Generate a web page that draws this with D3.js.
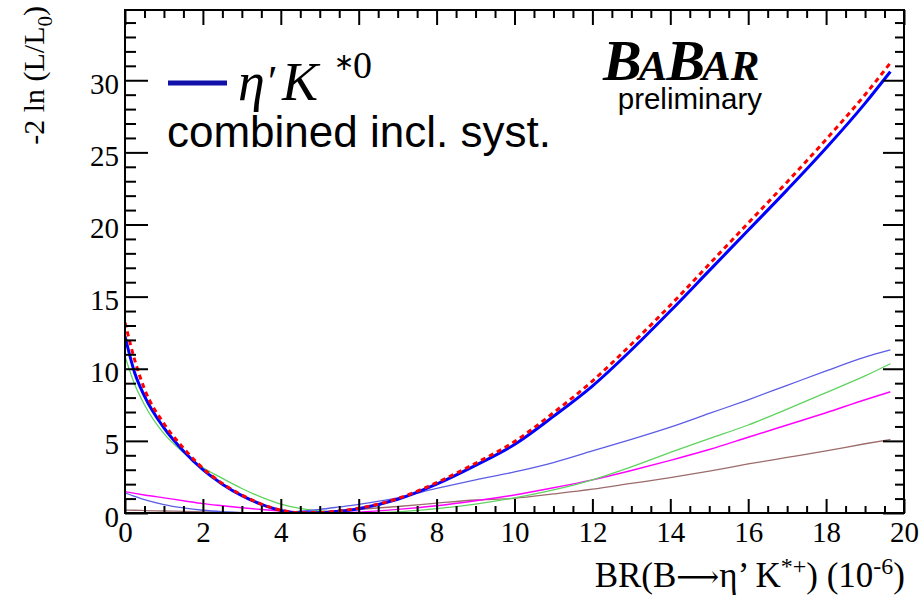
<!DOCTYPE html>
<html>
<head>
<meta charset="utf-8">
<script src="https://cdn.jsdelivr.net/npm/d3@7"></script>
<style>
  body { margin: 0; background: #fff; }
  #chart-area { width: 920px; height: 599px; }
  .tick text { font-family: "Liberation Serif", "Times New Roman", serif; font-size: 29px; fill: #000; }
  .tick line { stroke: #000; stroke-width: 2; }
  .domain { display: none; }
</style>
</head>
<body>
<div id="chart-area"></div>
<script>
// BR values (10^-6) where the scans are sampled
const brValues = [0, 0.25, 0.5, 1, 1.5, 2, 2.5, 3, 3.5, 4, 4.5, 5, 5.5, 6, 7, 8, 9, 10, 11, 12, 13, 14, 15, 16, 17, 18, 19, 19.65];

// -2 ln(L/L0) scans
const combinedSyst = [12.25, 9.7, 8.1, 5.9, 4.3, 3.0, 2.0, 1.2, 0.6, 0.18, 0.01, 0.02, 0.12, 0.3, 0.95, 2.0, 3.3, 4.75, 6.7, 8.8, 11.3, 14.0, 16.8, 19.6, 22.4, 25.3, 28.4, 30.6];
const combinedStat = [13.2, 10.6, 8.6, 6.2, 4.5, 3.1, 2.05, 1.25, 0.62, 0.2, 0.02, 0.03, 0.14, 0.33, 1.0, 2.1, 3.45, 4.95, 6.95, 9.15, 11.7, 14.4, 17.25, 20.1, 22.95, 25.9, 29.0, 31.2];
const channelBlue = [1.4, 1.15, 0.92, 0.58, 0.35, 0.19, 0.09, 0.03, 0.01, 0.03, 0.12, 0.25, 0.42, 0.6, 1.05, 1.7, 2.3, 2.85, 3.5, 4.3, 5.1, 5.95, 6.9, 7.85, 8.85, 9.85, 10.8, 11.3];
const channelGreen = [10.85, 8.9, 7.5, 5.5, 4.2, 3.15, 2.4, 1.7, 1.1, 0.62, 0.32, 0.14, 0.05, 0.02, 0.08, 0.3, 0.62, 1.05, 1.6, 2.3, 3.2, 4.2, 5.15, 6.1, 7.2, 8.35, 9.5, 10.35];
const channelMagenta = [1.48, 1.36, 1.25, 1.05, 0.85, 0.65, 0.5, 0.36, 0.24, 0.14, 0.06, 0.01, 0.01, 0.06, 0.25, 0.5, 0.85, 1.25, 1.75, 2.3, 2.95, 3.65, 4.4, 5.25, 6.1, 6.95, 7.85, 8.4];
const channelBrown = [0.2, 0.19, 0.17, 0.14, 0.11, 0.08, 0.05, 0.03, 0.01, 0.0, 0.0, 0.07, 0.15, 0.25, 0.45, 0.68, 0.9, 1.02, 1.32, 1.65, 2.05, 2.45, 2.9, 3.4, 3.85, 4.3, 4.8, 5.1];

const xMajorTicks = [0, 2, 4, 6, 8, 10, 12, 14, 16, 18, 20];
const yMajorTicks = [0, 5, 10, 15, 20, 25, 30];

// thin channel curves first, combined on top
const series = [
    { values: channelBrown, color: "#9c6b6b", width: 1.3, dash: null },
    { values: channelMagenta, color: "#ff00ff", width: 1.4, dash: null },
    { values: channelGreen, color: "#5fd35f", width: 1.3, dash: null },
    { values: channelBlue, color: "#5c5ce6", width: 1.3, dash: null },
    { values: combinedSyst, color: "#0000ff", width: 3, dash: null },
    { values: combinedStat, color: "#ff0000", width: 3, dash: "5,4" }
];

const width = 920, height = 599;
const margin = { top: 10, right: 16, bottom: 86, left: 125 };
const innerW = width - margin.left - margin.right;
const innerH = height - margin.top - margin.bottom;

const svg = d3.select("#chart-area").append("svg")
    .attr("width", width)
    .attr("height", height)
    .attr("viewBox", `0 0 ${width} ${height}`);

svg.append("rect").attr("width", width).attr("height", height).attr("fill", "#fff");

const g = svg.append("g").attr("transform", `translate(${margin.left},${margin.top})`);

const x = d3.scaleLinear().domain([0, 20]).range([0, innerW]);
const y = d3.scaleLinear().domain([0, 34.87]).range([innerH, 0]);

const xMinor = d3.range(0, 20.01, 0.5).filter(v => !xMajorTicks.includes(v));
const yMinor = d3.range(0, 34.5, 1).filter(v => !yMajorTicks.includes(v));

// Curves (clipped to frame)
g.append("clipPath").attr("id", "frame-clip")
    .append("rect").attr("width", innerW).attr("height", innerH);

const line = d3.line()
    .x((d, i) => x(brValues[i]))
    .y(d => y(d))
    .curve(d3.curveMonotoneX);

g.append("g").attr("clip-path", "url(#frame-clip)")
    .selectAll("path")
    .data(series)
    .enter()
    .append("path")
    .attr("d", d => line(d.values))
    .attr("fill", "none")
    .attr("stroke", d => d.color)
    .attr("stroke-width", d => d.width)
    .attr("stroke-dasharray", d => d.dash);

// Axes, ROOT style ticks pointing inward
g.append("g").attr("transform", `translate(0,${innerH})`)
    .call(d3.axisBottom(x).tickValues(xMinor).tickSize(-7).tickFormat(""));
g.append("g").attr("transform", `translate(0,${innerH})`)
    .call(d3.axisBottom(x).tickValues(xMajorTicks).tickSize(-14).tickPadding(8).tickFormat(d3.format("d")));
g.append("g")
    .call(d3.axisTop(x).tickValues(xMinor).tickSize(-8).tickFormat(""));
g.append("g")
    .call(d3.axisTop(x).tickValues(xMajorTicks).tickSize(-15).tickFormat(""));

g.append("g")
    .call(d3.axisLeft(y).tickValues(yMinor).tickSize(-11).tickFormat(""));
const yAxis = g.append("g")
    .call(d3.axisLeft(y).tickValues(yMajorTicks).tickSize(-23).tickPadding(6).tickFormat(d3.format("d")));
yAxis.selectAll("text").attr("dy", "0.45em");
g.append("g").attr("transform", `translate(${innerW},0)`)
    .call(d3.axisRight(y).tickValues(yMinor).tickSize(-9).tickFormat(""));
g.append("g").attr("transform", `translate(${innerW},0)`)
    .call(d3.axisRight(y).tickValues(yMajorTicks).tickSize(-21).tickFormat(""));

// Frame
g.append("rect")
    .attr("width", innerW).attr("height", innerH)
    .attr("fill", "none").attr("stroke", "#000").attr("stroke-width", 2);

// Axis titles
const xTitle = svg.append("text")
    .attr("x", 905).attr("y", 587)
    .attr("text-anchor", "end")
    .style("font-family", "'Liberation Serif', serif")
    .style("font-size", "35px");
xTitle.append("tspan").text("BR(B");
xTitle.append("tspan").style("font-family", "'DejaVu Serif', serif").style("font-size", "30px").text("\u27f6");
xTitle.append("tspan").text("\u03b7\u2019 K");
xTitle.append("tspan").attr("dy", -13).style("font-size", "24px").text("*+");
xTitle.append("tspan").attr("dy", 13).text(") (10");
xTitle.append("tspan").attr("dy", -13).style("font-size", "24px").text("-6");
xTitle.append("tspan").attr("dy", 13).text(")");

const yTitle = svg.append("text")
    .attr("transform", "translate(44,6) rotate(-90)")
    .attr("text-anchor", "end")
    .style("font-family", "'Liberation Serif', serif")
    .style("font-size", "30px");
yTitle.append("tspan").text("-2 ln (L/L");
yTitle.append("tspan").attr("dy", 8).style("font-size", "21px").text("0");
yTitle.append("tspan").attr("dy", -8).text(")");

// Legend
svg.append("line")
    .attr("x1", 168).attr("x2", 227).attr("y1", 83).attr("y2", 83)
    .attr("stroke", "#1111aa").attr("stroke-width", 5);

const legText = svg.append("text")
    .attr("y", 100)
    .style("font-family", "'Liberation Serif', serif")
    .style("font-size", "54px");
legText.append("tspan").attr("x", 238).style("font-style", "italic").text("\u03b7");
legText.append("tspan").attr("x", 268).attr("dy", -4).style("font-size", "44px").text("\u2032");
legText.append("tspan").attr("x", 282).attr("dy", 4).style("font-style", "italic").text("K");
legText.append("tspan").attr("x", 334).attr("dy", -30).style("font-size", "24px").text("\u2217");
legText.append("tspan").attr("x", 353).attr("dy", 8).style("font-size", "38px").text("0");

svg.append("text")
    .attr("x", 167).attr("y", 147)
    .style("font-family", "'Liberation Sans', Arial, sans-serif")
    .style("font-size", "44px")
    .text("combined incl. syst.");

// BaBar logo
const logo = svg.append("text")
    .attr("x", 603).attr("y", 80)
    .style("font-family", "'Liberation Serif', serif")
    .style("font-style", "italic")
    .style("font-weight", "bold");
logo.append("tspan").style("font-size", "58px").text("B");
logo.append("tspan").style("font-size", "43px").attr("dx", -3).text("A");
logo.append("tspan").style("font-size", "58px").attr("dx", -1).text("B");
logo.append("tspan").style("font-size", "43px").attr("dx", -3).text("AR");

svg.append("text")
    .attr("x", 762).attr("y", 109)
    .attr("text-anchor", "end")
    .style("font-family", "'Liberation Sans', Arial, sans-serif")
    .style("font-size", "29.5px")
    .text("preliminary");
</script>
</body>
</html>
